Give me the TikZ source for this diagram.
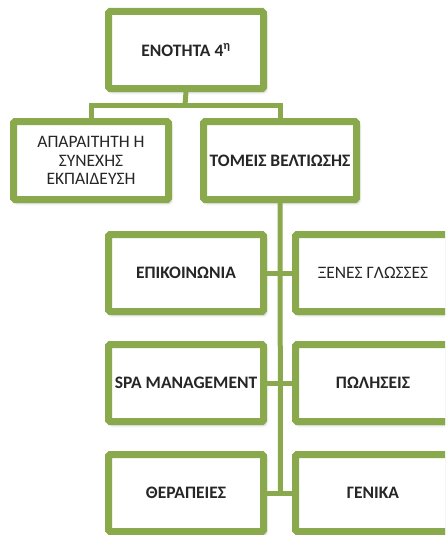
\documentclass[tikz,border=0pt]{standalone}
\usepackage{fontspec}
\setmainfont{Carlito}
\usetikzlibrary{shadows.blur}
\definecolor{boxgreen}{RGB}{138,168,76}
\definecolor{txt}{RGB}{38,38,38}
\tikzset{
  box/.style={draw=boxgreen, line width=7pt, fill=white, rounded corners=1.5pt,
    inner sep=0pt, align=center, text=txt, font=\bfseries\fontsize{17.5}{19}\selectfont,
    blur shadow={shadow xshift=2pt, shadow yshift=-3pt, shadow blur radius=3pt, shadow opacity=35}},
  plain/.style={font=\fontsize{17.5}{18.5}\selectfont, text=txt},
  link/.style={draw=boxgreen, line width=5pt},
}
\begin{document}
\begin{tikzpicture}[x=1pt, y=-1pt]
\useasboundingbox (0,0) rectangle (445,535);
\clip (0,0) rectangle (445,535);
% junction points of the connectors
\coordinate (bar) at (185,105);
\coordinate (spine) at (280.5,493);
% top level
\node[box, minimum width=155pt, minimum height=77pt] (top) at (186,50) {ΕΝΟΤΗΤΑ 4\textsuperscript{η}};
% second level
\node[box, plain, minimum width=155pt, minimum height=78pt] (edu) at (91,160.5) {ΑΠΑΡΑΙΤΗΤΗ Η\\ΣΥΝΕΧΗΣ\\ΕΚΠΑΙΔΕΥΣΗ};
\node[box, minimum width=153pt, minimum height=78pt] (areas) at (280,160.5) {ΤΟΜΕΙΣ ΒΕΛΤΙΩΣΗΣ};
% areas of improvement
\node[box, minimum width=155pt, minimum height=77pt] (comm) at (186,273) {ΕΠΙΚΟΙΝΩΝΙΑ};
\node[box, plain, minimum width=155pt, minimum height=77pt] (lang) at (373,273) {ΞΕΝΕΣ ΓΛΩΣΣΕΣ};
\node[box, minimum width=155pt, minimum height=77pt] (spa) at (186,383) {SPA MANAGEMENT};
\node[box, minimum width=155pt, minimum height=77pt] (sales) at (373,383) {ΠΩΛΗΣΕΙΣ};
\node[box, minimum width=155pt, minimum height=77pt] (ther) at (186,493) {ΘΕΡΑΠΕΙΕΣ};
\node[box, minimum width=155pt, minimum height=77pt] (gen) at (373,493) {ΓΕΝΙΚΑ};
% connectors
\draw[link] (top.south) -- (bar);
\draw[link] (edu.north) |- (bar) -| (areas.north);
\draw[link] (areas.south) -- (spine);
\draw[link] (comm.east) -- (lang.west);
\draw[link] (spa.east) -- (sales.west);
\draw[link] (ther.east) -- (gen.west);
\end{tikzpicture}
\end{document}
